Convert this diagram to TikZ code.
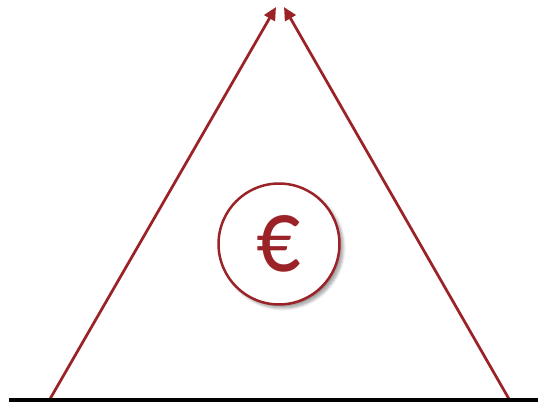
\documentclass[tikz,border=0pt]{standalone}
\usepackage{fontspec}
\newfontfamily\eurofont{Carlito}
\usetikzlibrary{arrows.meta, shadows.blur}
\definecolor{eurored}{RGB}{155,35,40}

\begin{document}
\begin{tikzpicture}[x=0.02cm, y=-0.02cm,
  force/.style={draw=eurored, line width=0.055cm, -{Triangle[length=0.26cm, width=0.24cm]}},
  coin/.style={circle, draw=eurored, line width=0.05cm, fill=white,
    minimum size=2.42cm, inner sep=0pt, text=eurored, font=\eurofont\fontsize{60}{60}\selectfont,
    blur shadow={shadow xshift=0.07cm, shadow yshift=-0.07cm, shadow blur steps=8, shadow opacity=40}}
]
\useasboundingbox (0,0) rectangle (538,405);

% ground and the two feet of the triangle
\coordinate (groundL) at (9,400);
\coordinate (groundR) at (538,400);
\coordinate (footL) at (50,399);
\coordinate (footR) at (509,399);
\coordinate (apexL) at (276,7);
\coordinate (apexR) at (284,7);

\draw[force] (footL) -- (apexL);
\draw[force] (footR) -- (apexR);
\draw[line width=0.08cm] (groundL) -- (groundR);

\node[coin] (euro) at (279,244) {\scalebox{0.83}[1]{€}};

\end{tikzpicture}
\end{document}
